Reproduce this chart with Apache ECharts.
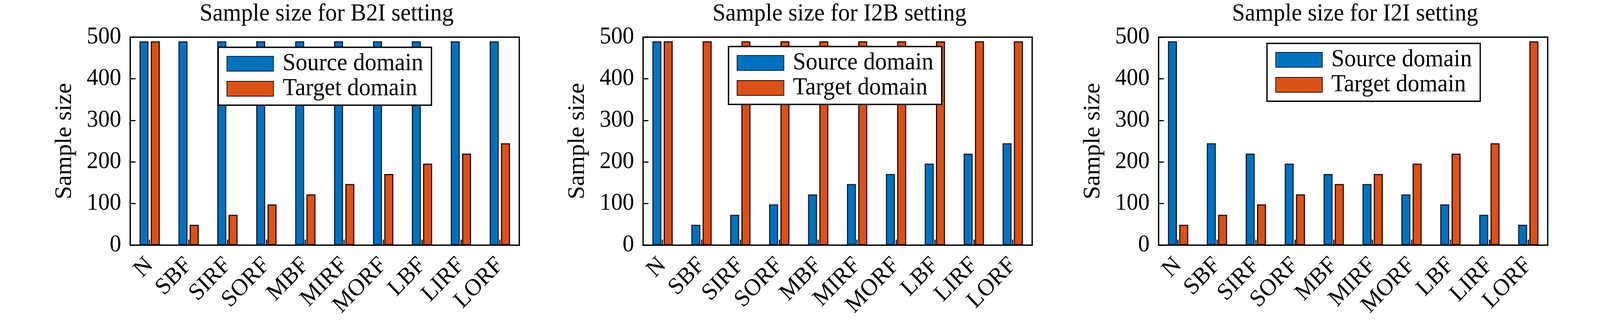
<!DOCTYPE html>
<html><head><meta charset="utf-8">
<script src="https://cdn.jsdelivr.net/npm/echarts/dist/echarts.min.js"></script>
<style>html,body{margin:0;padding:0;background:#fff;overflow:hidden}#c{width:4252px;height:821px;transform-origin:0 0}</style>
</head><body><div id="c"></div>
<script>
const categories = ['N','SBF','SIRF','SORF','MBF','MIRF','MORF','LBF','LIRF','LORF'];
const yTicks = [0,100,200,300,400,500];
const titles = ['Sample size for B2I setting','Sample size for I2B setting','Sample size for I2I setting'];
const seriesNames = ['Source domain','Target domain'];
const b2iSource = [490,490,490,490,490,490,490,490,490,490];
const b2iTarget = [490,49,73,98,122,147,171,196,220,245];
const i2bSource = [490,49,73,98,122,147,171,196,220,245];
const i2bTarget = [490,490,490,490,490,490,490,490,490,490];
const i2iSource = [490,245,220,196,171,147,122,98,73,49];
const i2iTarget = [49,73,98,122,147,171,196,220,245,490];

// the viewport may be narrower than the 4252 px design width: squeeze horizontally to fit
const box = document.getElementById('c');
const sx = Math.min(1, window.innerWidth / 4252);
if (sx < 1) box.style.transform = 'scaleX(' + sx + ')';

const panels = [[b2iSource,b2iTarget],[i2bSource,i2bTarget],[i2iSource,i2iTarget]];
const FONT = "Liberation Serif";
const gridLefts = [346,1709,3079];
const gridW = 1034, gridTop = 95, gridH = 532;
const legendPos = [[580,121],[1936,119],[3367,111]];
const fills = ['#0072BD','#D95319'];
const edges = ['#0d1e3a','#2a0500'];

const grid = [], xAxis = [], yAxis = [], series = [], title = [], legend = [];
panels.forEach((p, i) => {
  grid.push({left: gridLefts[i], top: gridTop, width: gridW, height: gridH, show: true,
    borderColor: '#000', borderWidth: 3.5, backgroundColor: 'transparent', containLabel: false});
  title.push({text: titles[i], left: gridLefts[i] + gridW/2, textAlign: 'center', top: 0,
    textStyle: {fontFamily: FONT, fontSize: 62, fontWeight: 'normal', color: '#000', lineHeight: 62}});
  xAxis.push({type: 'category', gridIndex: i, data: categories, boundaryGap: true,
    axisLine: {show: false},
    axisTick: {show: true, inside: true, alignWithLabel: true, length: 14, lineStyle: {color: '#000', width: 3}},
    axisLabel: {rotate: 45, interval: 0, margin: 42, fontFamily: FONT, fontSize: 61, color: '#000'},
    splitLine: {show: false}});
  yAxis.push({type: 'value', gridIndex: i, min: yTicks[0], max: yTicks[yTicks.length-1], interval: 100,
    axisLine: {show: false},
    axisTick: {show: true, inside: true, length: 14, lineStyle: {color: '#000', width: 3}},
    axisLabel: {margin: 24, fontFamily: FONT, fontSize: 61, color: '#000'},
    splitLine: {show: false},
    name: 'Sample size', nameLocation: 'middle', nameGap: 143,
    nameTextStyle: {fontFamily: FONT, fontSize: 62, color: '#000'}});
  p.forEach((vals, k) => {
    series.push({type: 'bar', name: seriesNames[k], xAxisIndex: i, yAxisIndex: i, data: vals,
      barWidth: 24, barGap: '25%',
      itemStyle: {color: fills[k], borderColor: edges[k], borderWidth: 3}});
  });
  legend.push({orient: 'vertical', left: legendPos[i][0], top: legendPos[i][1], data: seriesNames,
    padding: [11, 22, 11, 22], itemGap: 2, itemWidth: 124, itemHeight: 38, icon: 'rect',
    backgroundColor: '#fff', borderColor: '#000', borderWidth: 3.5, borderRadius: 0,
    selectedMode: false,
    textStyle: {fontFamily: FONT, fontSize: 62, color: '#000', padding: [0,0,0,19]}});
});

const chart = echarts.init(box, null, {renderer: 'canvas', devicePixelRatio: 2, width: 4252, height: 821});
chart.setOption({animation: false, backgroundColor: '#fff', title, legend, grid, xAxis, yAxis, series});
</script></body></html>
